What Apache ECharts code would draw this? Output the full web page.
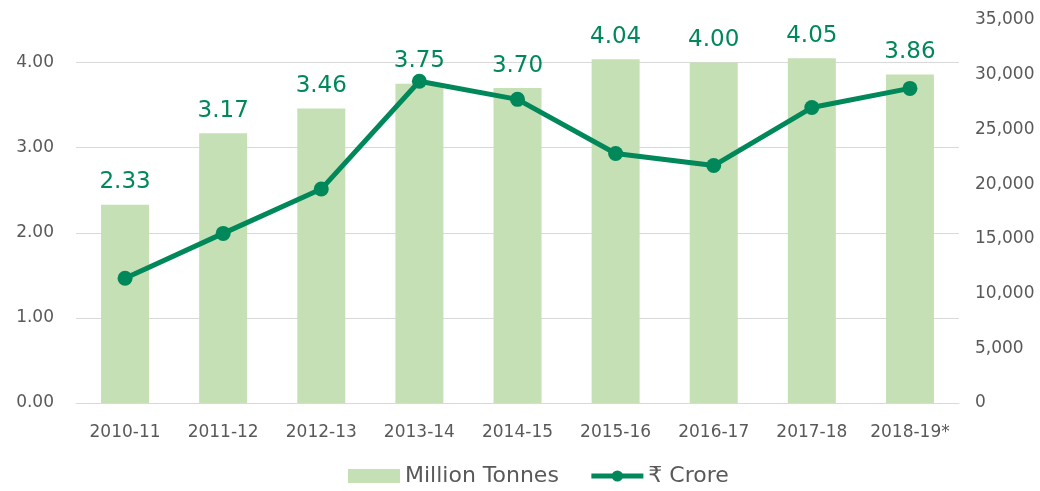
<!DOCTYPE html>
<html>
<head>
<meta charset="utf-8">
<script src="https://cdn.jsdelivr.net/npm/echarts@6/dist/echarts.min.js"></script>
<style>
  html, body { margin: 0; padding: 0; background: #fff; }
  #chart { width: 1040px; height: 491px; }
</style>
</head>
<body>
<div id="chart"></div>
<script>
// 年度
const years = ['2010-11', '2011-12', '2012-13', '2013-14', '2014-15', '2015-16', '2016-17', '2017-18', '2018-19*']
// 产量（百万吨）
const tonnes = [2.33, 3.17, 3.46, 3.75, 3.70, 4.04, 4.00, 4.05, 3.86]
// 金额（₹ Crore）
const crore = [11400, 15500, 19550, 29400, 27750, 22800, 21700, 27000, 28750]

const font = 'DejaVu Sans'
const gray = '#595959'
const green = '#00875a'

echarts.init(document.getElementById('chart')).setOption({
  textStyle: { fontFamily: font },
  grid: { top: 20, left: 76, right: 81, bottom: 88 },
  legend: {
    left: 343,
    bottom: -1,
    itemWidth: 52,
    itemHeight: 14,
    itemGap: 30,
    textStyle: { color: gray, fontSize: 22, fontFamily: font },
    data: [
      { name: 'Million Tonnes', icon: 'rect' },
      { name: '₹ Crore', lineStyle: { width: 5 } },
    ],
  },
  xAxis: {
    type: 'category',
    data: years,
    axisLine: { lineStyle: { color: '#d9d9d9', width: 1 } },
    axisTick: { show: false },
    axisLabel: { color: gray, fontSize: 17, margin: 21, interval: 0 },
  },
  yAxis: [
    {
      type: 'value',
      min: 0,
      max: 4.5,
      interval: 1,
      axisLine: { show: false },
      axisTick: { show: false },
      axisLabel: {
        color: gray,
        fontSize: 17,
        margin: 22,
        showMaxLabel: false,
        formatter: (v) => v.toFixed(2),
      },
      splitLine: { showMaxLine: false, lineStyle: { color: '#d9d9d9', width: 1 } },
    },
    {
      type: 'value',
      min: 0,
      max: 35000,
      interval: 5000,
      axisLine: { show: false },
      axisTick: { show: false },
      splitLine: { show: false },
      axisLabel: {
        color: gray,
        fontSize: 17,
        margin: 16,
        formatter: (v) => v.toLocaleString('en-US'),
      },
    },
  ],
  series: [
    {
      name: 'Million Tonnes',
      type: 'bar',
      data: tonnes,
      barWidth: 48,
      itemStyle: { color: '#c5e0b4' },
      label: {
        show: true,
        position: 'top',
        distance: 11,
        color: green,
        fontSize: 23,
        formatter: (p) => p.value.toFixed(2),
      },
    },
    {
      name: '₹ Crore',
      type: 'line',
      yAxisIndex: 1,
      data: crore,
      symbol: 'circle',
      symbolSize: 15,
      lineStyle: { color: green, width: 5 },
      itemStyle: { color: green },
    },
  ],
})
</script>
</body>
</html>
